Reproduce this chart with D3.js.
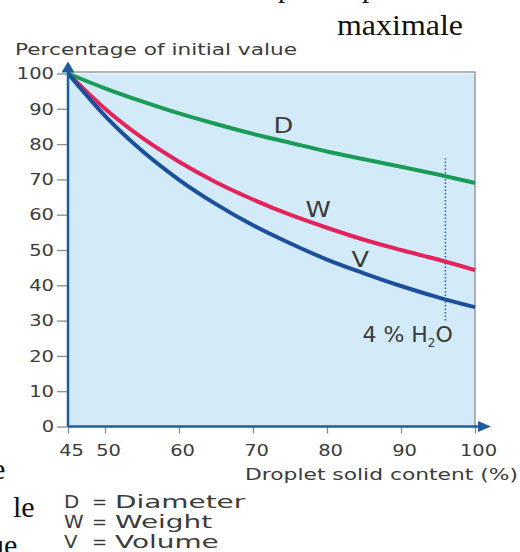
<!DOCTYPE html>
<html>
<head>
<meta charset="utf-8">
<script src="https://cdn.jsdelivr.net/npm/d3@7"></script>
<style>
    html, body { margin: 0; padding: 0; background: #fff; }
    svg { display: block; }
</style>
</head>
<body>
<div id="chart"></div>
<script>
// Droplet shrinkage while drying - percentage of initial value

const solidContent = [45, 50, 55, 60, 65, 70, 75, 80, 85, 90, 95, 100];
const diameterPct = [100, 95.8, 92.1, 88.7, 85.7, 82.9, 80.4, 77.9, 75.7, 73.6, 71.4, 69.0];
const weightPct = [100, 90, 81.8, 75, 69.2, 64.3, 60, 56.3, 52.9, 50, 47.3, 44.3];
const volumePct = [100, 88, 78.1, 69.9, 63, 57, 51.9, 47.3, 43.4, 39.8, 36.6, 33.8];

const seriesNames = ['D', 'W', 'V'];
const legendWords = ['Diameter', 'Weight', 'Volume'];

const xTicks = [45, 50, 60, 70, 80, 90, 100];
const yTicks = [0, 10, 20, 30, 40, 50, 60, 70, 80, 90, 100];

const waterMark = 96;            // 4 % H2O residual moisture
const waterMarkSpan = [30, 76];

const sans = '"DejaVu Sans", Verdana, sans-serif';
const serif = '"Liberation Serif", "Times New Roman", serif';
const textColor = '#3b3b3b';

function stretch(sel, k) {
    sel.each(function () {
        const w = this.getComputedTextLength();
        d3.select(this)
            .attr('textLength', w * k)
            .attr('lengthAdjust', 'spacingAndGlyphs');
    });
}

function createChart() {
    const svg = d3.select('#chart').append('svg')
        .attr('width', 520)
        .attr('height', 552);

    const x = d3.scaleLinear().domain([45, 100]).range([68, 475]);
    const y = d3.scaleLinear().domain([0, 100]).range([426.5, 73.5]);

    // Surrounding document text (page fragments, cut by the crop)
    const page = svg.append('g')
        .attr('font-family', serif)
        .attr('fill', '#111');
    page.append('text').attr('x', 278).attr('y', -3).attr('font-size', 29).text('p');
    page.append('text').attr('x', 362).attr('y', -3).attr('font-size', 29).text('p');
    page.append('text').attr('x', 337).attr('y', 35).attr('font-size', 29)
        .attr('textLength', 126).attr('lengthAdjust', 'spacingAndGlyphs')
        .text('maximale');
    page.append('text').attr('x', -8).attr('y', 479).attr('font-size', 30).text('e');
    page.append('text').attr('x', 13).attr('y', 517).attr('font-size', 30).text('le');
    page.append('text').attr('x', -11).attr('y', 555).attr('font-size', 30).text('ue');

    // Plot background
    svg.append('rect')
        .attr('x', x(45))
        .attr('y', y(100))
        .attr('width', x(100) - x(45))
        .attr('height', y(0) - y(100))
        .attr('fill', '#d3ebf8');

    svg.append('path')
        .attr('d', `M${x(45)},${y(100) - 1.5}H${x(100)}V${y(0)}`)
        .attr('fill', 'none')
        .attr('stroke', '#9b9b9b')
        .attr('stroke-width', 1.5);

    // Y axis ticks
    const yAxis = svg.append('g')
        .attr('transform', `translate(${x(45)},0)`)
        .call(d3.axisLeft(y).tickValues(yTicks).tickSize(11).tickPadding(3))
        .call(g => g.select('.domain').remove());
    yAxis.selectAll('line').attr('stroke', '#8c8c8c').attr('stroke-width', 1.3);
    yAxis.selectAll('text')
        .attr('font-family', sans)
        .attr('font-size', 16.5)
        .attr('fill', textColor)
        .call(stretch, 1.18);

    // X axis ticks
    const xAxis = svg.append('g')
        .attr('transform', `translate(0,${y(0)})`)
        .call(d3.axisBottom(x).tickValues(xTicks).tickSize(7).tickPadding(11))
        .call(g => g.select('.domain').remove());
    xAxis.selectAll('line').attr('stroke', '#8c8c8c').attr('stroke-width', 1.3);
    xAxis.selectAll('text')
        .attr('font-family', sans)
        .attr('font-size', 16.5)
        .attr('fill', textColor)
        .attr('dx', 3)
        .call(stretch, 1.18);

    // Water content marker
    svg.append('line')
        .attr('x1', x(waterMark)).attr('x2', x(waterMark))
        .attr('y1', y(waterMarkSpan[0])).attr('y2', y(waterMarkSpan[1]))
        .attr('stroke', '#2b63a8')
        .attr('stroke-width', 1.6)
        .attr('stroke-dasharray', '1.5,2');

    // Curves
    const colors = ['#1a9b58', '#e3245c', '#1b4e9b'];
    const series = [diameterPct, weightPct, volumePct].map((vals, i) => ({
        name: seriesNames[i],
        color: colors[i],
        points: solidContent.map((c, j) => [c, vals[j]])
    }));

    const line = d3.line()
        .x(d => x(d[0]))
        .y(d => y(d[1]))
        .curve(d3.curveMonotoneX);

    svg.selectAll('.curve')
        .data(series)
        .enter()
        .append('path')
        .attr('class', 'curve')
        .attr('d', d => line(d.points))
        .attr('fill', 'none')
        .attr('stroke', d => d.color)
        .attr('stroke-width', 4);

    // Axis lines with arrows
    const axisColor = '#1f5c9e';
    svg.append('line')
        .attr('x1', x(45)).attr('x2', x(45))
        .attr('y1', y(0)).attr('y2', y(100) - 4)
        .attr('stroke', axisColor).attr('stroke-width', 2.5);
    svg.append('path')
        .attr('d', `M${x(45)},${y(100) - 12}L${x(45) + 6.5},${y(100) - 1}L${x(45) - 6.5},${y(100) - 1}Z`)
        .attr('fill', axisColor);
    svg.append('line')
        .attr('x1', x(45)).attr('x2', x(100) + 6)
        .attr('y1', y(0)).attr('y2', y(0))
        .attr('stroke', axisColor).attr('stroke-width', 2.5);
    svg.append('path')
        .attr('d', `M${x(100) + 16},${y(0)}L${x(100) + 3},${y(0) - 5.5}L${x(100) + 3},${y(0) + 5.5}Z`)
        .attr('fill', axisColor);

    // Curve labels
    const labelPos = [[74.1, 83.2], [78.8, 59.4], [84.5, 45.3]];
    svg.selectAll('.curve-label')
        .data(series)
        .enter()
        .append('text')
        .attr('class', 'curve-label')
        .attr('x', (d, i) => x(labelPos[i][0]))
        .attr('y', (d, i) => y(labelPos[i][1]))
        .attr('text-anchor', 'middle')
        .attr('font-family', sans)
        .attr('font-size', 20.5)
        .attr('fill', textColor)
        .text(d => d.name)
        .call(stretch, 1.25);

    const h2o = svg.append('text')
        .attr('x', x(97))
        .attr('y', y(23.9))
        .attr('text-anchor', 'end')
        .attr('font-family', sans)
        .attr('font-size', 22)
        .attr('fill', textColor);
    h2o.append('tspan').text('4 % H');
    h2o.append('tspan').attr('font-size', 12).attr('dy', 5).text('2');
    h2o.append('tspan').attr('dy', -5).text('O');

    // Axis titles
    svg.append('text')
        .attr('x', 15)
        .attr('y', 55)
        .attr('font-family', sans)
        .attr('font-size', 15.5)
        .attr('fill', textColor)
        .attr('textLength', 282)
        .attr('lengthAdjust', 'spacingAndGlyphs')
        .text('Percentage of initial value');

    svg.append('text')
        .attr('x', 245)
        .attr('y', 480)
        .attr('font-family', sans)
        .attr('font-size', 15.5)
        .attr('fill', textColor)
        .attr('textLength', 273)
        .attr('lengthAdjust', 'spacingAndGlyphs')
        .text('Droplet solid content (%)');

    // Legend
    const legend = svg.append('g')
        .attr('font-family', sans)
        .attr('font-size', 18)
        .attr('fill', textColor);

    const rows = legend.selectAll('g')
        .data(seriesNames)
        .enter()
        .append('g')
        .attr('transform', (d, i) => `translate(0,${508 + i * 20})`);

    rows.append('text').attr('x', 64).text(d => d).call(stretch, 1.1);
    rows.append('text').attr('x', 92).text('=');
    rows.append('text').attr('x', 115).text((d, i) => legendWords[i]).call(stretch, 1.55);
}

createChart();
</script>
</body>
</html>
